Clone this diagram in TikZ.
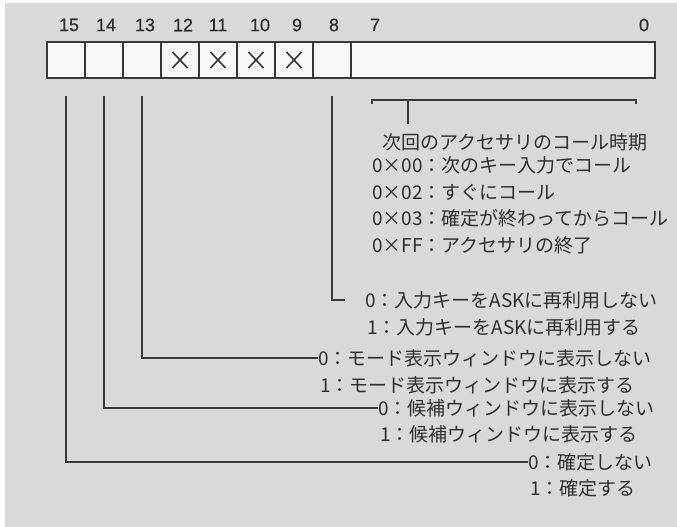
\documentclass[tikz,border=0pt]{standalone}
\usepackage{fontspec}
\newfontfamily\cjk{Noto Sans CJK JP}
\newfontfamily\bitf[FakeBold=0.6]{Liberation Sans}
\definecolor{bgc}{HTML}{D7DAD7}
\definecolor{cellc}{HTML}{F8F8F5}
\definecolor{linec}{HTML}{383838}
\definecolor{txtc}{HTML}{2E2E2E}
\tikzset{
  cell/.style={draw=linec, line width=2pt, fill=cellc, minimum height=36pt, inner sep=0pt},
  lbl/.style={font=\cjk\fontsize{19}{22}\selectfont, text=txtc, inner sep=0pt, anchor=west},
  bitno/.style={font=\bitf\fontsize{18}{20}\selectfont, text=txtc, inner sep=0pt},
  conn/.style={draw=linec, line width=2.2pt},
  xmark/.style={draw=linec, line width=1.6pt}
}
\begin{document}
\begin{tikzpicture}[x=1pt,y=-1pt]
\useasboundingbox (0,0) rectangle (677,527);
\fill[white] (0,0) rectangle (677,527);
\fill[bgc] (5,3) rectangle (677,527);
% register cells
\node[cell, minimum width=38pt] (b15) at (66,60) {};
\node[cell, minimum width=38pt] (b14) at (104,60) {};
\node[cell, minimum width=38pt] (b13) at (142,60) {};
\node[cell, minimum width=38pt] (b12) at (180,60) {};
\node[cell, minimum width=38pt] (b11) at (218,60) {};
\node[cell, minimum width=38pt] (b10) at (256,60) {};
\node[cell, minimum width=38pt] (b9) at (294,60) {};
\node[cell, minimum width=38pt] (b8) at (332,60) {};
\node[cell, minimum width=304pt] (b70) at (503,60) {};
% crosses
\foreach \c in {b12,b11,b10,b9}{
  \draw[xmark] ([shift={(-7.5pt,-8pt)}]\c.center) -- ([shift={(7.5pt,8pt)}]\c.center);
  \draw[xmark] ([shift={(-7.5pt,8pt)}]\c.center) -- ([shift={(7.5pt,-8pt)}]\c.center);
}
% bit numbers
\node[bitno] (n15) at (69,25) {15};
\node[bitno] (n14) at (106,25) {14};
\node[bitno] (n13) at (145,25) {13};
\node[bitno] (n12) at (183,25) {12};
\node[bitno] (n11) at (218,25) {11};
\node[bitno] (n10) at (260,25) {10};
\node[bitno] (n9) at (297,25) {9};
\node[bitno] (n8) at (334,25) {8};
\node[bitno] (n7) at (375,25) {7};
\node[bitno] (n0) at (644,25) {0};
% bracket for bits 7-0
\coordinate (brl) at (372,100);
\coordinate (brr) at (636,100);
\coordinate (brs) at (408,100);
\coordinate (bre) at (408,124);
\draw[conn, line width=1.8pt] ([yshift=-4pt]brl) -- (brl) -- (brr) -- ([yshift=-4pt]brr);
\draw[conn, line width=1.8pt] (brs) -- (bre);
% bracket texts
\node[lbl] (h) at (382,142) {次回のアクセサリのコール時期};
\node[lbl] (c1) at (372,165) {0×00：次のキー入力でコール};
\node[lbl] (c2) at (372,192) {0×02：すぐにコール};
\node[lbl] (c3) at (372,218) {0×03：確定が終わってからコール};
\node[lbl] (c4) at (372,245) {0×FF：アクセサリの終了};
% flag texts
\node[lbl] (t8a) at (365,300) {0：入力キーをASKに再利用しない};
\node[lbl] (t8b) at (367,327) {1：入力キーをASKに再利用する};
\node[lbl] (t13a) at (318,358) {0：モード表示ウィンドウに表示しない};
\node[lbl] (t13b) at (320,385) {1：モード表示ウィンドウに表示する};
\node[lbl] (t14a) at (378,408) {0：候補ウィンドウに表示しない};
\node[lbl] (t14b) at (380,434) {1：候補ウィンドウに表示する};
\node[lbl] (t15a) at (528,462) {0：確定しない};
\node[lbl] (t15b) at (530,488) {1：確定する};
% connectors
\coordinate (s15) at ([yshift=-17pt]b15.south);
\coordinate (s14) at ([yshift=-17pt]b14.south);
\coordinate (s13) at ([yshift=-17pt]b13.south);
\coordinate (s8) at ([yshift=-17pt]b8.south);
\coordinate (e8) at (345,300);
\draw[conn] (s8) |- (e8);
\draw[conn] (s13) |- (t13a.west);
\draw[conn] (s14) |- (t14a.west);
\draw[conn] (s15) |- (t15a.west);
\end{tikzpicture}
\end{document}
